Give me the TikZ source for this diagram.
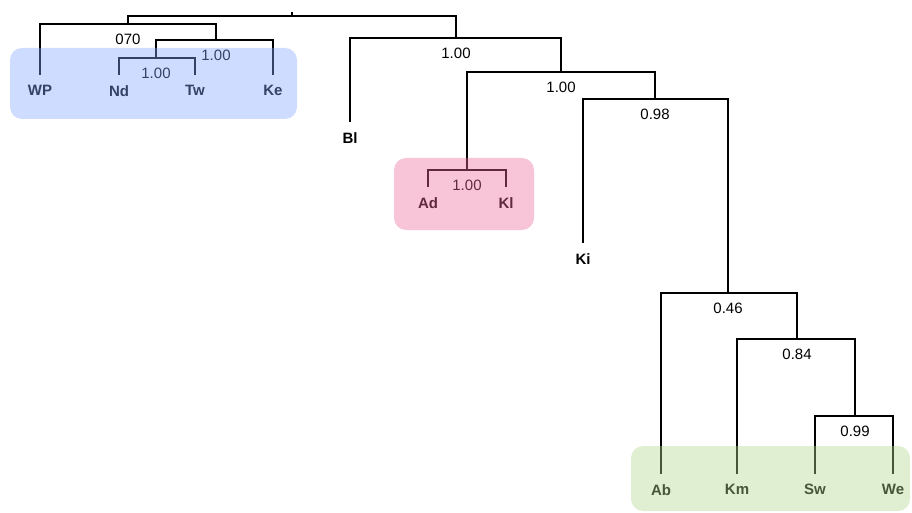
\documentclass[tikz,border=0pt]{standalone}
\usepackage{fontspec}
\setmainfont{Liberation Sans}
\begin{document}
\begin{tikzpicture}[x=1pt,y=-1pt,
  edge/.style={line width=1.2pt,black},
  leaf/.style={font=\fontsize{15}{17}\selectfont\bfseries,anchor=north,inner sep=0pt,yshift=-10pt},
  supp/.style={font=\fontsize{15}{17}\selectfont,anchor=north,inner sep=0pt,yshift=-10pt},
  grp/.style={rounded corners=12pt,fill opacity=0.4,draw=none}]
\useasboundingbox (0,0) rectangle (912,513);
% internal nodes (position on own bar)
\coordinate (rt) at (292,12);
\coordinate (r) at (292,16);
\coordinate (A) at (128,24);
\coordinate (B) at (216,40);
\coordinate (C) at (156,58);
\coordinate (D) at (456,38);
\coordinate (E) at (561,72);
\coordinate (F) at (467,170);
\coordinate (G) at (655,99);
\coordinate (H) at (728,293);
\coordinate (I) at (797,339);
\coordinate (J) at (855,416);
% leaf tips
\coordinate (WP) at (40,75);
\coordinate (Nd) at (119,75);
\coordinate (Tw) at (195,75);
\coordinate (Ke) at (273,75);
\coordinate (Bl) at (350,122);
\coordinate (Ad) at (428,187);
\coordinate (Kl) at (506,187);
\coordinate (Ki) at (583,243);
\coordinate (Ab) at (661,474);
\coordinate (Km) at (737,474);
\coordinate (Sw) at (815,474);
\coordinate (We) at (893,474);
% edges
\draw[edge] (rt) -- (r);
\draw[edge] (r) -| (A);
\draw[edge] (r) -| (D);
\draw[edge] (A) -| (WP);
\draw[edge] (A) -| (B);
\draw[edge] (B) -| (C);
\draw[edge] (B) -| (Ke);
\draw[edge] (C) -| (Nd);
\draw[edge] (C) -| (Tw);
\draw[edge] (D) -| (Bl);
\draw[edge] (D) -| (E);
\draw[edge] (E) -| (F);
\draw[edge] (E) -| (G);
\draw[edge] (F) -| (Ad);
\draw[edge] (F) -| (Kl);
\draw[edge] (G) -| (Ki);
\draw[edge] (G) -| (H);
\draw[edge] (H) -| (Ab);
\draw[edge] (H) -| (I);
\draw[edge] (I) -| (Km);
\draw[edge] (I) -| (J);
\draw[edge] (J) -| (Sw);
\draw[edge] (J) -| (We);
% support values
\node[supp] (sA) at (A) {070};
\node[supp] (sB) at (B) {1.00};
\node[supp] (sC) at (C) {1.00};
\node[supp] (sD) at (D) {1.00};
\node[supp] (sE) at (E) {1.00};
\node[supp] (sF) at (F) {1.00};
\node[supp] (sG) at (G) {0.98};
\node[supp] (sH) at (H) {0.46};
\node[supp] (sI) at (I) {0.84};
\node[supp] (sJ) at (J) {0.99};
% leaf labels
\node[leaf] (lWP) at (WP) {WP};
\node[leaf] (lNd) at (Nd) {Nd};
\node[leaf] (lTw) at (Tw) {Tw};
\node[leaf] (lKe) at (Ke) {Ke};
\node[leaf] (lBl) at (Bl) {Bl};
\node[leaf] (lAd) at (Ad) {Ad};
\node[leaf] (lKl) at (Kl) {Kl};
\node[leaf] (lKi) at (Ki) {Ki};
\node[leaf] (lAb) at (Ab) {Ab};
\node[leaf] (lKm) at (Km) {Km};
\node[leaf] (lSw) at (Sw) {Sw};
\node[leaf] (lWe) at (We) {We};
% group boxes (overlaid)
\definecolor{gblue}{RGB}{130,167,255}
\definecolor{gpink}{RGB}{238,107,155}
\definecolor{ggreen}{RGB}{178,214,143}
\fill[grp,gblue] (10,48) rectangle (297,119);
\fill[grp,gpink] (394,158) rectangle (534,230);
\fill[grp,ggreen] (631,446) rectangle (910,511);
\end{tikzpicture}
\end{document}
